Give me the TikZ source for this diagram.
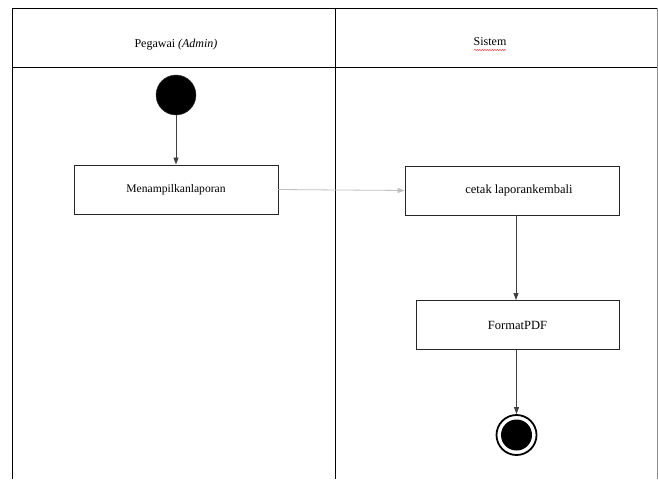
\documentclass[tikz,border=0pt]{standalone}
\usepackage{fontspec}
\setmainfont{Liberation Serif}
\usetikzlibrary{arrows.meta,decorations.pathmorphing}
\begin{document}
\begin{tikzpicture}[x=1pt,y=-1pt,
  lane/.style={draw=black,line width=1pt},
  act/.style={draw=black!85,line width=0.9pt,minimum width=204pt,minimum height=49pt,inner sep=0pt,font=\fontsize{12.5}{14}\selectfont},
  flow/.style={draw=black!75,line width=0.8pt,-{Triangle[length=7pt,width=5pt]}},
  startnode/.style={circle,fill=black,draw=black!80,minimum size=40pt,inner sep=0pt},
  hdr/.style={font=\fontsize{12}{14}\selectfont}]
\useasboundingbox (0,0) rectangle (658,479);

% swimlane frame
\draw[lane] (12,479) -- (12,8) -- (657,8);
\draw[lane,draw=black!45] (657,8) -- (657,479);
\draw[lane] (12,67) -- (657,67);
\draw[lane] (335,8) -- (335,479);

% lane headers
\node[hdr] (h1) at (176,45) {Pegawai \textit{(Admin)}};
\node[hdr] (h2) at (490,42) {Sistem};
\draw[red!80,line width=0.5pt,decorate,decoration={snake,amplitude=0.6pt,segment length=2.5pt}]
  (474,50) -- (506,50);

% nodes
\node[startnode] (start) at (176,95) {};
\node[act,font=\fontsize{11.6}{14}\selectfont] (a1) at (176,189.5) {Menampilkanlaporan};
\node[act,minimum width=214pt] (a2) at (512,190.5) {\hspace*{14pt}cetak laporankembali};
\node[act,minimum width=203pt] (a3) at (517.5,325) {FormatPDF};
\node[circle,draw=black,line width=1.8pt,minimum size=40pt,inner sep=0pt] (end) at (516.5,435) {};
\node[circle,fill=black,minimum size=31pt,inner sep=0pt] (endin) at (end.center) {};

% transitions
\draw[flow] (start) -- (a1);
\draw[flow,draw=black!25] (a1.east) -- (a2.west);
\draw[flow] (a2.south -| a3.north) ++(-1.5,0) coordinate (d1) -- (d1 |- a3.north);
\draw[flow] (a3.south) ++(-1,0) coordinate (d2) -- (d2 |- end.north);
\end{tikzpicture}
\end{document}
